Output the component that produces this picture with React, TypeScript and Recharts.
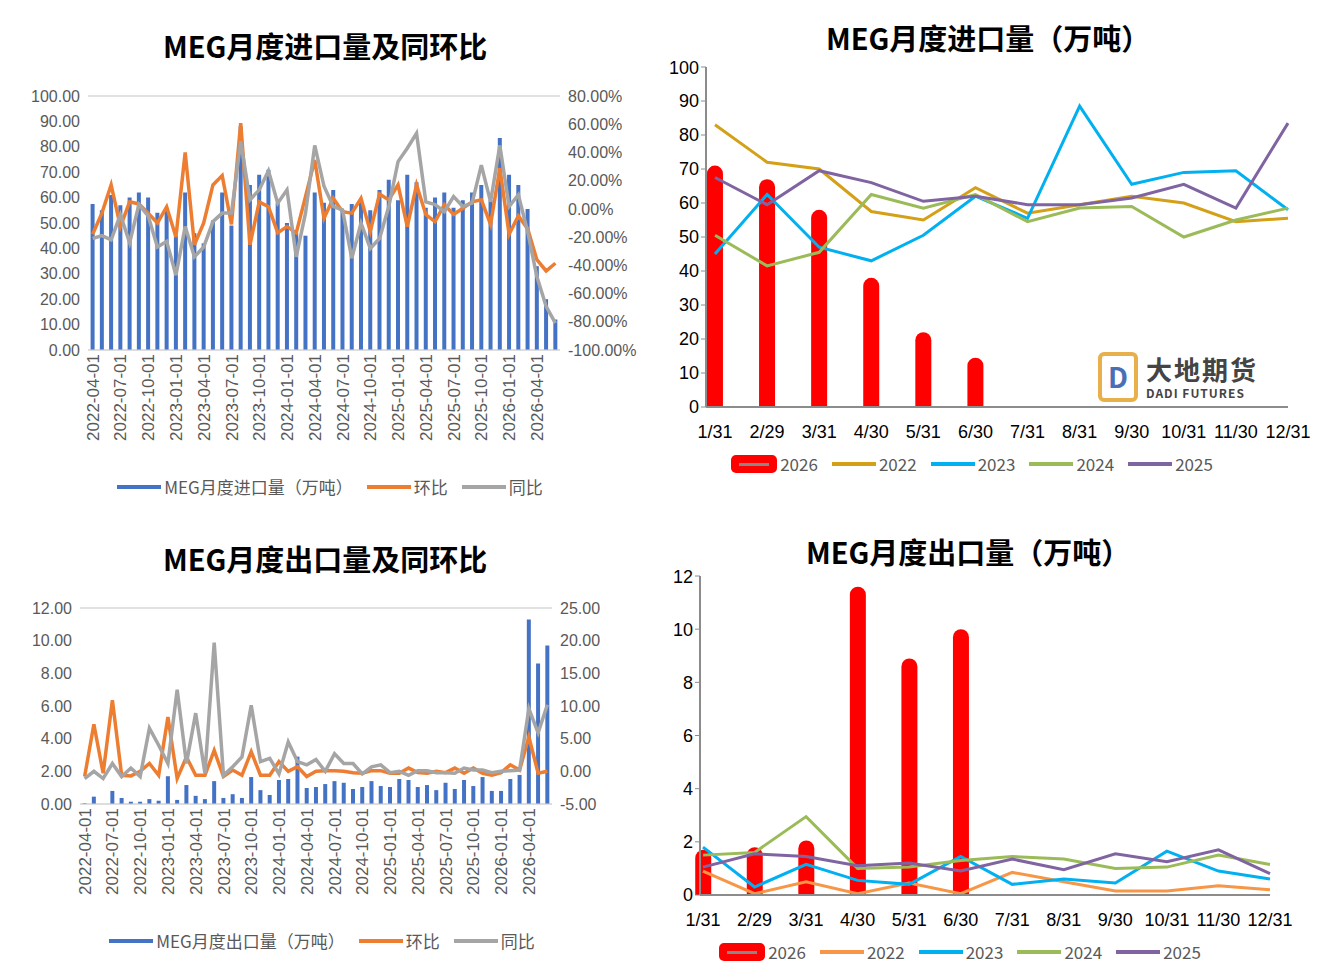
import React from "react"
import { ComposedChart, Bar, Line, XAxis, YAxis, CartesianGrid, Legend } from "recharts"

// month labels 2022-04 .. 2026-06
const monthLabels: string[] = []
for (let i = 0; i < 51; i++) {
  const y = 2022 + Math.floor((3 + i) / 12)
  const m = ((3 + i) % 12) + 1
  monthLabels.push(`${y}-${String(m).padStart(2, "0")}-01`)
}

const importVolume = [
  57.5, 55, 61, 57, 60, 62, 60, 54, 56, 45,
  62, 46, 42, 51, 62, 49, 88, 65, 69, 71,
  58, 50, 46, 45, 62, 58, 63, 55, 57.5, 59,
  55, 63, 67, 59, 69, 66, 56, 60, 62, 56,
  59, 62, 65, 59, 83.5, 69, 65, 55.5, 33, 20, 12,
]
const importMoM = [
  -18, -3, 17, -12.5, 5, 3.5, -3, -10, 1.5, -20,
  40, -25.5, -10, 17, 23.6, -11, 60.7, -25.5, 5, 1.5,
  -17, -12.5, -17, 8.7, 34.7, -6.6, 7.5, -2, -3, 7.5,
  -16, 10.6, 6.4, 17, -12.5, 17, -4, -9, 3, -4,
  0.5, 5, 6.4, -11, 29, -18, -5, -14, -36, -44, -38.5,
]
const importYoY = [
  -21, -19, -22, -4, -24, 3, -5, -27, -23, -47,
  -12.5, -34, -27, -9, -3, -3, 48, 6.4, 13.5, 27,
  4, 13.5, -34, -3, 45, 16, 1.7, -0.7, -35, -10,
  -28, -21, 1.7, 33.5, 43, 53.6, 5, 3, -2, 8.7,
  1.7, 4, 31, 5, 45, 1.7, 10, -16, -48, -69, -81,
]

const exportVolume = [
  0.05, 0.45, 0, 0.8, 0.37, 0.14, 0.14, 0.3, 0.2, 1.7,
  0.25, 1.16, 0.5, 0.3, 1.4, 0.37, 0.6, 0.37, 1.65, 0.85,
  0.55, 1.47, 1.53, 2.9, 0.98, 1.04, 1.22, 1.4, 1.3, 0.92,
  1.04, 1.4, 1.1, 1.04, 1.53, 1.47, 1.04, 1.16, 0.85, 1.3,
  0.92, 1.47, 1.1, 1.65, 0.8, 0.8, 1.53, 1.78, 11.3, 8.6, 9.7,
]
const exportMoM = [
  -0.8, 7.2, -0.3, 10.9, -0.6, -0.7, 0, 1.2, -0.6, 8.3,
  -1.1, 2.2, -0.6, -0.6, 3.2, -0.8, 0.2, -0.6, 3, -0.6,
  -0.6, 1.5, 0, 0.7, -0.8, 0, 0.1, 0.1, 0, -0.2,
  -0.3, 0.1, 0.1, -0.3, -0.3, 0.5, -0.2, -0.3, 0, -0.2,
  0.5, -0.3, 0.5, -0.3, -0.6, -0.2, 1, 0.2, 5.3, -0.3, 0,
]
const exportYoY = [
  -1.1, 0, -1.1, 1.2, -0.8, 0.5, -0.8, 6.6, 4, 1.2,
  12.5, 1.2, 8.9, -0.3, 19.7, -0.6, 0.7, 2.2, 10.1, 1.5,
  2, -0.4, 4.5, 1.5, 1, 1.8, 0, 2.7, 1.2, 1.2,
  -0.4, 0.7, 1, -0.2, 0, -0.6, 0.1, 0.1, -0.2, -0.2,
  -0.3, 0.5, 0.2, 0.2, -0.2, 0, 0.1, 0.2, 9.6, 5.9, 10.2,
]

const monthEnds = ["1/31", "2/29", "3/31", "4/30", "5/31", "6/30", "7/31", "8/31", "9/30", "10/31", "11/30", "12/31"]

const imp2026 = [71, 67, 58, 38, 22, 14.5]
const imp2022 = [83, 72, 70, 57.5, 55, 64.5, 57, 59.5, 62, 60, 54.5, 55.5]
const imp2023 = [45, 62.5, 47, 43, 50.5, 62, 55.5, 88.5, 65.5, 69, 69.5, 58]
const imp2024 = [50.5, 41.5, 45.5, 62.5, 58.5, 62.5, 54.5, 58.5, 59, 50, 55, 58.5]
const imp2025 = [67.5, 59.5, 69.5, 66, 60.5, 62, 59.5, 59.5, 61.5, 65.5, 58.5, 83.5]

const exp2026 = [1.7, 1.8, 2.05, 11.6, 8.9, 10.0]
const exp2022 = [0.9, 0.05, 0.5, 0.05, 0.45, 0.05, 0.85, 0.5, 0.15, 0.15, 0.35, 0.2]
const exp2023 = [1.8, 0.3, 1.15, 0.55, 0.4, 1.45, 0.4, 0.6, 0.45, 1.65, 0.9, 0.6]
const exp2024 = [1.5, 1.6, 2.95, 1.0, 1.05, 1.3, 1.45, 1.35, 1.0, 1.05, 1.5, 1.15]
const exp2025 = [1.05, 1.55, 1.45, 1.1, 1.2, 0.9, 1.35, 0.95, 1.55, 1.25, 1.7, 0.8]

const FONT = "'Noto Sans CJK SC', 'Noto Sans', sans-serif"
const TICK = { fontSize: 16, fill: "#595959", fontFamily: "'Liberation Sans', sans-serif" }
const TITLE: React.CSSProperties = { position: "absolute", fontFamily: FONT, fontWeight: 700, fontSize: 29, color: "#000", whiteSpace: "nowrap" }

function LegendItems({ items }: { items: { label: string; color: string; bar?: boolean; barColor?: string }[] }) {
  return (
    <div style={{ display: "flex", justifyContent: "center", gap: 14, fontFamily: FONT, fontSize: 17, color: "#595959" }}>
      {items.map((it) => (
        <span key={it.label} style={{ display: "flex", alignItems: "center", gap: 3 }}>
          {it.bar ? (
            <span style={{ position: "relative", width: 46, height: 18, background: it.barColor, borderRadius: 5, display: "inline-block" }}>
              <span style={{ position: "absolute", left: 8, right: 8, top: 8, height: 3, background: "#888" }} />
            </span>
          ) : (
            <span style={{ width: 44, height: 4, background: it.color, display: "inline-block" }} />
          )}
          {it.label}
        </span>
      ))}
    </div>
  )
}

function ComboPanel(props: {
  left: number; top: number; title: string; titleLeft: number; titleTop: number
  vol: number[]; mom: number[]; yoy: number[]
  lDomain: [number, number]; lTicks: number[]; rDomain: [number, number]; rTicks: number[]
  rFmt: (v: number) => string; plotH: number; legendName: string; leftW: number
}) {
  const data = monthLabels.map((d, i) => ({ d, vol: props.vol[i], mom: props.mom[i], yoy: props.yoy[i] }))
  return (
    <>
      <div style={{ ...TITLE, left: props.titleLeft, top: props.titleTop }}>{props.title}</div>
      <div style={{ position: "absolute", left: props.left, top: props.top }}>
        <ComposedChart width={660} height={props.plotH + 16 + 124 + 34} data={data} margin={{ top: 16, right: 0, left: 0, bottom: 0 }} barCategoryGap="28%">
          <CartesianGrid vertical={false} stroke="#d9d9d9" strokeWidth={1.5} />
          <XAxis dataKey="d" interval={2} angle={-90} textAnchor="end" height={124} tick={{ ...TICK, fontSize: 17 }} axisLine={{ stroke: "#d9d9d9" }} tickLine={false} dy={-4} dx={-6} />
          <YAxis yAxisId="l" domain={props.lDomain} ticks={props.lTicks} width={props.leftW} tick={TICK} axisLine={false} tickLine={false} tickFormatter={(v) => v.toFixed(2)} />
          <YAxis yAxisId="r" orientation="right" domain={props.rDomain} ticks={props.rTicks} width={100} tick={{ ...TICK, textAnchor: "start" }} axisLine={false} tickLine={false} tickFormatter={props.rFmt} />
          <Bar yAxisId="l" dataKey="vol" fill="#4472C4" isAnimationActive={false} />
          <Line yAxisId="r" dataKey="mom" stroke="#ED7D31" strokeWidth={3.5} dot={false} isAnimationActive={false} />
          <Line yAxisId="r" dataKey="yoy" stroke="#A5A5A5" strokeWidth={3.5} dot={false} isAnimationActive={false} />
          <Legend verticalAlign="bottom" height={34} content={() => (
            <LegendItems items={[
              { label: props.legendName, color: "#4472C4" },
              { label: "环比", color: "#ED7D31" },
              { label: "同比", color: "#A5A5A5" },
            ]} />
          )} />
        </ComposedChart>
      </div>
    </>
  )
}

function SeasonPanel(props: {
  left: number; top: number; title: string; titleLeft: number; titleTop: number
  s26: number[]; s22: number[]; s23: number[]; s24: number[]; s25: number[]
  domain: [number, number]; ticks: number[]; plotW: number; plotH: number; c22: string; padL: number
}) {
  const data = monthEnds.map((m, i) => ({ m, a: props.s26[i], b: props.s22[i], c: props.s23[i], d: props.s24[i], e: props.s25[i] }))
  const axis = { stroke: "#8c8c8c", strokeWidth: 2 }
  return (
    <>
      <div style={{ ...TITLE, left: props.titleLeft, top: props.titleTop }}>{props.title}</div>
      <div style={{ position: "absolute", left: props.left, top: props.top }}>
        <ComposedChart width={props.plotW + 50 + 30} height={props.plotH + 10 + 44 + 30} data={data} margin={{ top: 10, right: 30, left: 0, bottom: 0 }}>
          <XAxis dataKey="m" scale="point" padding={{ left: props.padL, right: 0 }} tick={{ ...TICK, fill: "#000", fontSize: 18 }} axisLine={axis} tickLine={false} height={44} interval={0} dy={10} />
          <YAxis domain={props.domain} ticks={props.ticks} width={50} tick={{ ...TICK, fill: "#000", fontSize: 18 }} axisLine={axis} tickLine={{ stroke: "#8c8c8c" }} tickSize={5} />
          <Bar dataKey="a" fill="#FF0000" barSize={16} radius={[8, 8, 0, 0]} isAnimationActive={false} />
          <Line dataKey="b" stroke={props.c22} strokeWidth={3} dot={false} isAnimationActive={false} />
          <Line dataKey="c" stroke="#00B0F0" strokeWidth={3} dot={false} isAnimationActive={false} />
          <Line dataKey="d" stroke="#9BBB59" strokeWidth={3} dot={false} isAnimationActive={false} />
          <Line dataKey="e" stroke="#8064A2" strokeWidth={3} dot={false} isAnimationActive={false} />
          <Legend verticalAlign="bottom" height={30} content={() => (
            <div style={{ fontSize: 18, color: "#000" }}>
              <LegendItems items={[
                { label: "2026", color: "", bar: true, barColor: "#FF0000" },
                { label: "2022", color: props.c22 },
                { label: "2023", color: "#00B0F0" },
                { label: "2024", color: "#9BBB59" },
                { label: "2025", color: "#8064A2" },
              ]} />
            </div>
          )} />
        </ComposedChart>
      </div>
    </>
  )
}

export default function App() {
  return (
    <div style={{ position: "absolute", left: 0, top: 0, width: 1317, height: 974, background: "#fff", overflow: "hidden" }}>
      <ComboPanel left={0} top={80} title="MEG月度进口量及同环比" titleLeft={163} titleTop={24}
        vol={importVolume} mom={importMoM} yoy={importYoY}
        lDomain={[0, 100]} lTicks={[0, 10, 20, 30, 40, 50, 60, 70, 80, 90, 100]}
        rDomain={[-100, 80]} rTicks={[-100, -80, -60, -40, -20, 0, 20, 40, 60, 80]}
        rFmt={(v) => `${v.toFixed(2)}%`} plotH={254} legendName="MEG月度进口量（万吨）" leftW={88} />
      <ComboPanel left={-8} top={592} title="MEG月度出口量及同环比" titleLeft={163} titleTop={537}
        vol={exportVolume} mom={exportMoM} yoy={exportYoY}
        lDomain={[0, 12]} lTicks={[0, 2, 4, 6, 8, 10, 12]}
        rDomain={[-5, 25]} rTicks={[-5, 0, 5, 10, 15, 20, 25]}
        rFmt={(v) => v.toFixed(2)} plotH={196} legendName="MEG月度出口量（万吨）" leftW={88} />
      <SeasonPanel left={656} top={57} title="MEG月度进口量（万吨）" titleLeft={826} titleTop={16}
        s26={imp2026} s22={imp2022} s23={imp2023} s24={imp2024} s25={imp2025}
        domain={[0, 100]} ticks={[0, 10, 20, 30, 40, 50, 60, 70, 80, 90, 100]}
        plotW={582} plotH={340} c22="#D4A017" padL={9} />
      <SeasonPanel left={650} top={566} title="MEG月度出口量（万吨）" titleLeft={806} titleTop={530}
        s26={exp2026} s22={exp2022} s23={exp2023} s24={exp2024} s25={exp2025}
        domain={[0, 12]} ticks={[0, 2, 4, 6, 8, 10, 12]}
        plotW={570} plotH={319} c22="#F79646" padL={3} />
      <div style={{ position: "absolute", left: 1098, top: 352, display: "flex", alignItems: "center", gap: 8, fontFamily: FONT }}>
        <div style={{ width: 40, height: 50, border: "4px solid #E8B04A", borderRadius: 6, boxSizing: "border-box", color: "#4A6FB5", fontWeight: 700, fontSize: 28, textAlign: "center", lineHeight: "40px" }}>D</div>
        <div>
          <div style={{ fontSize: 26, fontWeight: 700, color: "#444", letterSpacing: 2, lineHeight: "30px" }}>大地期货</div>
          <div style={{ fontSize: 12, fontWeight: 700, color: "#444", letterSpacing: 1 }}>DADI FUTURES</div>
        </div>
      </div>
    </div>
  )
}
